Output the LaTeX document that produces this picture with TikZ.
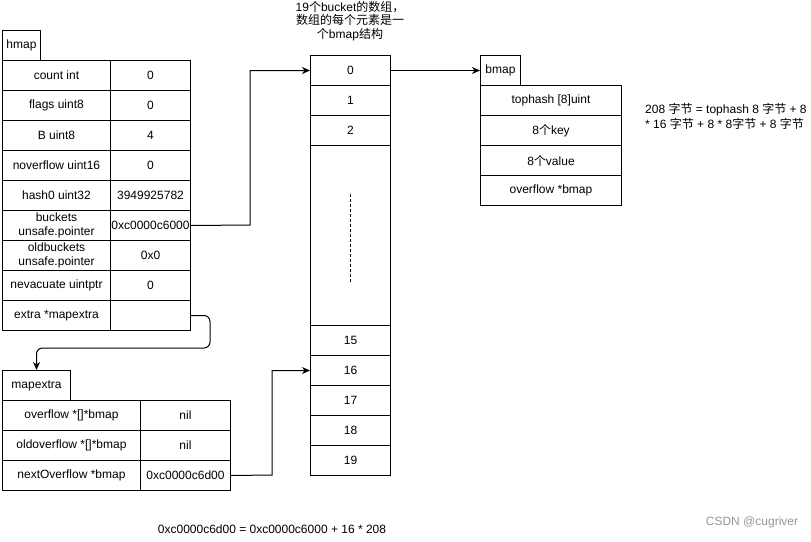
\documentclass[tikz,border=0pt]{standalone}
\usepackage{fontspec}
\setmainfont{Liberation Sans}
\newfontfamily\cjk{Noto Sans CJK SC}
\usetikzlibrary{arrows.meta,calc}
\definecolor{wm}{RGB}{150,150,150}
\tikzset{
  cell/.style={draw, line width=1pt, anchor=north west, inner sep=0pt, align=center,
    minimum height=30pt, font=\fontsize{12}{14}\selectfont},
  txt/.style={inner sep=0pt, font=\fontsize{12}{14}\selectfont},
  conn/.style={line width=1pt},
  arr/.style={conn, -{Stealth[length=8pt,width=7pt,inset=2.5pt]}}
}
\begin{document}
\begin{tikzpicture}[x=1pt,y=-1pt]
\useasboundingbox (0,0) rectangle (811,541);
% hmap
\node[cell, minimum width=38pt] (ht) at (2,30) {hmap};
\node[cell, minimum width=108pt] (hk1) at (2,60) {count int};
\node[cell, minimum width=80pt] (hv1) at (110,60) {0};
\node[cell, minimum width=108pt] (hk2) at (2,90) {flags uint8};
\node[cell, minimum width=80pt] (hv2) at (110,90) {0};
\node[cell, minimum width=108pt] (hk3) at (2,120) {B uint8};
\node[cell, minimum width=80pt] (hv3) at (110,120) {4};
\node[cell, minimum width=108pt] (hk4) at (2,150) {noverflow uint16};
\node[cell, minimum width=80pt] (hv4) at (110,150) {0};
\node[cell, minimum width=108pt] (hk5) at (2,180) {hash0 uint32};
\node[cell, minimum width=80pt] (hv5) at (110,180) {3949925782};
\node[cell, minimum width=108pt] (hk6) at (2,210) {buckets\\unsafe.pointer};
\node[cell, minimum width=80pt] (hv6) at (110,210) {0xc0000c6000};
\node[cell, minimum width=108pt] (hk7) at (2,240) {oldbuckets\\unsafe.pointer};
\node[cell, minimum width=80pt] (hv7) at (110,240) {0x0};
\node[cell, minimum width=108pt] (hk8) at (2,270) {nevacuate uintptr};
\node[cell, minimum width=80pt] (hv8) at (110,270) {0};
\node[cell, minimum width=108pt] (hk9) at (2,300) {extra *mapextra};
\node[cell, minimum width=80pt] (hv9) at (110,300) {};
% mapextra
\node[cell, minimum width=68pt] (met) at (2,370) {mapextra};
\node[cell, minimum width=138pt] (mk1) at (2,400) {overflow *[]*bmap};
\node[cell, minimum width=90pt] (mv1) at (140,400) {nil};
\node[cell, minimum width=138pt] (mk2) at (2,430) {oldoverflow *[]*bmap};
\node[cell, minimum width=90pt] (mv2) at (140,430) {nil};
\node[cell, minimum width=138pt] (mk3) at (2,460) {nextOverflow *bmap};
\node[cell, minimum width=90pt] (mv3) at (140,460) {0xc0000c6d00};
% buckets
\node[cell, minimum width=80pt] (b0) at (310,55) {0};
\node[cell, minimum width=80pt] (b1) at (310,85) {1};
\node[cell, minimum width=80pt] (b2) at (310,115) {2};
\node[cell, minimum width=80pt, minimum height=180pt] (bbig) at (310,145) {};
\node[cell, minimum width=80pt] (b15) at (310,325) {15};
\node[cell, minimum width=80pt] (b16) at (310,355) {16};
\node[cell, minimum width=80pt] (b17) at (310,385) {17};
\node[cell, minimum width=80pt] (b18) at (310,415) {18};
\node[cell, minimum width=80pt] (b19) at (310,445) {19};
\draw[line width=0.8pt, dash pattern=on 3pt off 2pt] ([yshift=42pt]bbig.center) -- ([yshift=-46pt]bbig.center);
% bmap
\node[cell, minimum width=40pt] (bt) at (480,55) {bmap};
\node[cell, minimum width=141pt] (bm1) at (480,85) {tophash [8]uint};
\node[cell, minimum width=141pt] (bm2) at (480,115) {8{\cjk 个}key};
\node[cell, minimum width=141pt] (bm3) at (480,145) {8{\cjk 个}value};
\node[cell, minimum width=141pt] (bm4) at (480,175) {overflow *bmap};
% texts
\node[txt, align=center, font=\fontsize{12}{13.5}\selectfont] (title) at (350,21) {19{\cjk 个}bucket{\cjk 的数组，}\\{\cjk 数组的每个元素是一}\\{\cjk 个}bmap{\cjk 结构}};
\node[txt, align=left, anchor=west, font=\fontsize{12}{15}\selectfont] (size) at (645,116.5) {208 {\cjk 字节} = tophash 8 {\cjk 字节} + 8\\* 16 {\cjk 字节} + 8 * 8{\cjk 字节} + 8 {\cjk 字节}};
\node[txt] (calc) at (272,529) {0xc0000c6d00 = 0xc0000c6000 + 16 * 208};
\node[txt, text=wm] (wmark) at (752,522) {CSDN @cugriver};
% connectors
\coordinate (c1) at (250,225);
\draw[arr] (hv6.east) -- (c1) |- (b0.west);
\coordinate (c2) at (210,348);
\draw[arr, rounded corners=6pt] (hv9.east) -| (c2) -| (met.north);
\coordinate (c3) at (272,475);
\draw[arr] (mv3.east) -- (c3) |- (b16.west);
\draw[arr] (b0.east) -- (bt.west);
\end{tikzpicture}
\end{document}
